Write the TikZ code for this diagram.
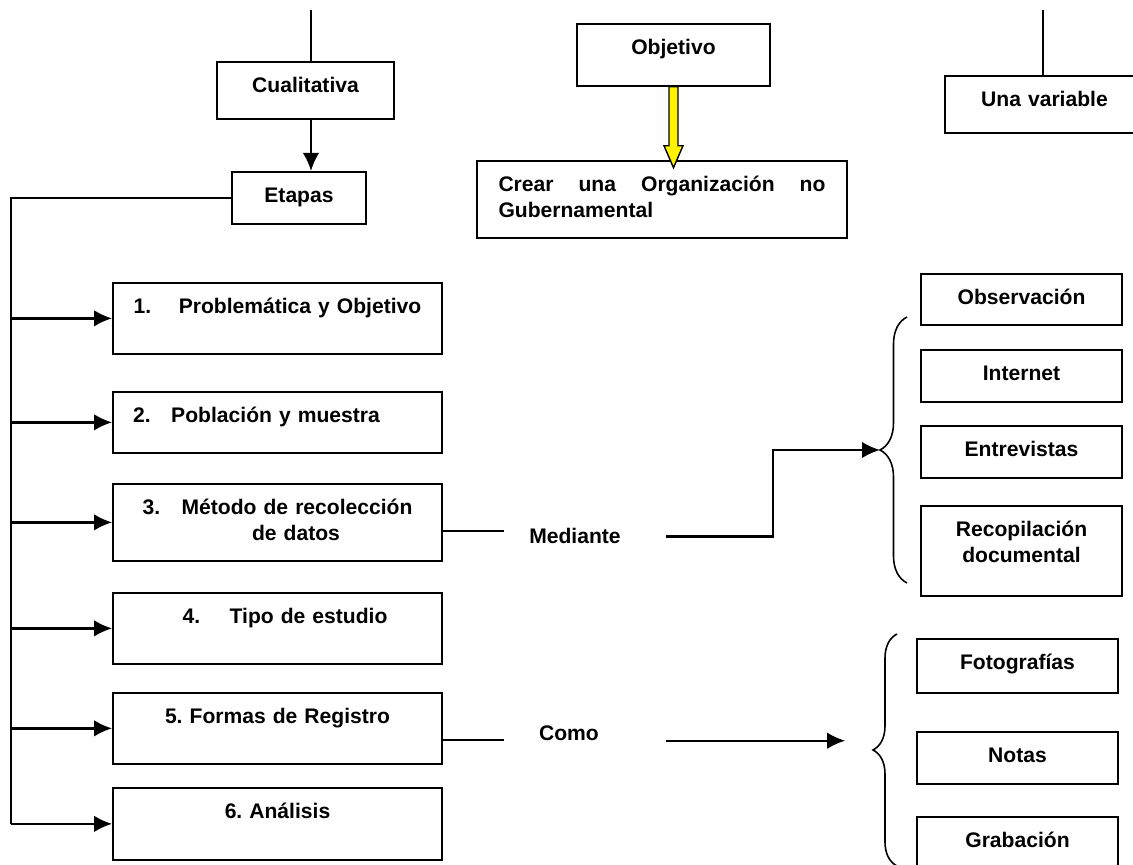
\documentclass[tikz,border=0pt]{standalone}
\usepackage{fontspec}
\setmainfont{Liberation Sans}
\usetikzlibrary{arrows.meta, decorations.pathreplacing}
\frenchspacing
\tikzstyle{caja} = [rectangle, draw=black, line width=1pt, anchor=north, inner xsep=0pt, inner ysep=0pt, text height=0.62cm, text depth=0.42cm, align=center]
\tikzstyle{etapa} = [caja, text width=6.58cm]
\tikzstyle{opcion} = [caja, text width=4.02cm]
\tikzstyle{nexo} = [anchor=base, inner sep=0pt]
\tikzstyle{flecha} = [-{Latex[length=3.6mm,width=3.3mm]}, line width=1.3pt]
\tikzstyle{linea} = [line width=0.75pt]
\tikzstyle{llave} = [decorate, line width=0.9pt]

\begin{document}
\begin{tikzpicture}[font=\fontsize{12}{14.5}\selectfont\bfseries]
    \useasboundingbox (0,0) rectangle (22.66,17.30);
    \clip (0,0) rectangle (22.66,17.30);

    \node at (6.11,16.08) [caja, text width=3.54cm, text depth=0.52cm] (cual) {Cualitativa};
    \node at (5.98,13.88) [caja, text width=2.68cm] (etapas) {Etapas};
    \node at (13.47,16.84) [caja, text width=3.86cm, text depth=0.62cm] (obj) {Objetivo};
    \node at (13.24,14.10) [caja, text width=6.54cm, inner xsep=0.43cm, align=left, text depth=0.92cm] (crear) {Crear\hfill una\hfill Organización\hfill no\\Gubernamental};
    \node at (20.89,15.80) [caja, text width=3.98cm, text depth=0.52cm] (unav) {Una variable};

    % etapas
    \node at (5.55,11.66) [etapa, text depth=0.80cm] (s1) {1.\hspace{0.55cm}Problemática y Objetivo};
    \node at (5.55,9.48) [etapa, text depth=0.60cm] (s2) {2.\hspace{0.41cm}Población y muestra\hspace*{0.84cm}\mbox{}};
    \node at (5.55,7.64) [etapa, text depth=0.92cm] (s3) {3.\hspace{0.43cm}Método de recolección\\\hspace*{0.74cm}de datos};
    \node at (5.55,5.46) [etapa, text depth=0.80cm] (s4) {\hspace*{0.3cm}4.\hspace{0.59cm}Tipo de estudio};
    \node at (5.55,3.46) [etapa, text depth=0.80cm] (s5) {5. Formas de Registro};
    \node at (5.55,1.56) [etapa, text depth=0.82cm] (s6) {6. Análisis};

    \node at (11.50,6.42) [nexo] (med) {Mediante};
    \node at (11.38,2.49) [nexo] (como) {Como};

    % opciones
    \node at (20.43,11.84) [opcion, text depth=0.40cm] (obs) {Observación};
    \node at (20.43,10.32) [opcion] (inter) {Internet};
    \node at (20.43,8.80) [opcion] (entre) {Entrevistas};
    \node at (20.43,7.20) [opcion, text depth=1.18cm] (recop) {Recopilación\\documental};
    \node at (20.35,4.54) [opcion, text depth=0.46cm] (foto) {Fotografías};
    \node at (20.35,2.68) [opcion] (notas) {Notas};
    \node at (20.35,0.98) [opcion] (grab) {Grabación};

    \coordinate (arribaA) at (6.22,17.10);
    \coordinate (arribaC) at (20.86,17.10);
    \coordinate (eje) at (0.22,0);
    \coordinate (b1) at (17.60,8.30);

    \draw[linea] (arribaA) -- (arribaA |- cual.north);
    \draw[linea] (arribaC) -- (arribaC |- unav.north);
    \draw[flecha] (arribaA |- cual.south) -- (arribaA |- etapas.north);

    \draw[linea] (etapas.west) -| (eje |- s6.west);
    \foreach \s in {s1,s2,s3,s4,s5,s6}
        \draw[flecha] (eje |- \s.west) -- (\s.west);

    \draw[linea] ([yshift=-0.17cm]s3.east) -- ++(1.22,0);
    \draw[flecha] ([xshift=0.9cm]med.east) -- ++(2.14,0) |- (b1);
    \draw[linea] ([yshift=-0.23cm]s5.east) -- ++(1.22,0);
    \draw[flecha] ([xshift=1.34cm,yshift=-0.15cm]como.east) -- ++(3.58,0);

    \draw[llave, decoration={brace, amplitude=0.54cm}] (18.14,5.64) -- (18.14,10.96);
    \draw[llave, decoration={brace, amplitude=0.48cm}] (17.94,-0.02) -- (17.94,4.62);

    \filldraw[fill=yellow, draw=black, line width=0.8pt] ([xshift=-0.09cm]obj.south) -- ++(0,-1.18) -- ++(-0.1,0) -- ++(0.19,-0.44) -- ++(0.19,0.44) -- ++(-0.1,0) -- ++(0,1.18) -- cycle;
\end{tikzpicture}
\end{document}
